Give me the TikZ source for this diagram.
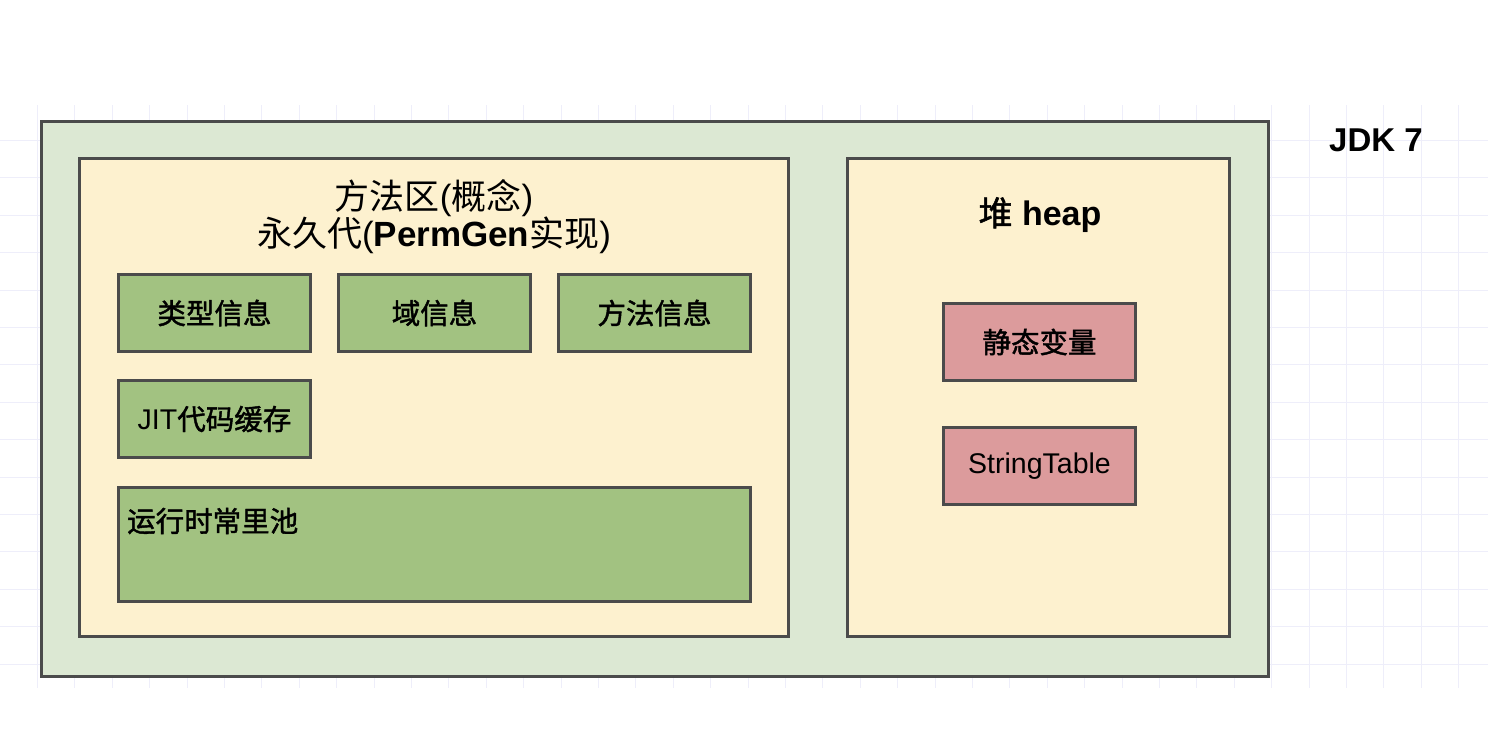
\documentclass[tikz,border=0pt]{standalone}
\usepackage{fontspec}
\setmainfont{Liberation Sans}
\newfontfamily\cjk{Noto Sans CJK SC}[AutoFakeBold=1.5]
\newcommand\cjkb{\cjk\bfseries}
\definecolor{linegray}{HTML}{4B4B4B}
\definecolor{gridlav}{HTML}{EEEEFA}
\definecolor{outergreen}{HTML}{DCE8D3}
\definecolor{areayellow}{HTML}{FDF1CF}
\definecolor{boxgreen}{HTML}{A2C281}
\definecolor{boxpink}{HTML}{DC9B9C}
\tikzset{
  gridline/.style={draw=gridlav, line width=1pt},
  area/.style={draw=linegray, line width=3pt, inner sep=0pt, anchor=north west},
  infobox/.style={draw=linegray, line width=3pt, fill=boxgreen, inner sep=0pt,
    minimum width=192pt, minimum height=77pt, anchor=north west,
    font=\fontsize{28.5}{30}\selectfont},
  heading/.style={font=\fontsize{35}{39}\selectfont, inner sep=0pt},
}
\begin{document}
\begin{tikzpicture}[x=1pt, y=-1pt]
\useasboundingbox (0,0) rectangle (1488,736);
% background grid
\begin{scope}
\clip (0,105) rectangle (1488,688);
\foreach \i in {1,...,39} \draw[gridline] (37.4*\i,105) -- (37.4*\i,688);
\foreach \j in {0,...,15} \draw[gridline] (0,103+37.4*\j) -- (1488,103+37.4*\j);
\end{scope}

\node[area, fill=outergreen, minimum width=1227pt, minimum height=555pt] (jvm) at (40,120) {};
\node[area, fill=areayellow, minimum width=709pt, minimum height=478pt] (methodarea) at (78,157) {};
\node[area, fill=areayellow, minimum width=382pt, minimum height=478pt] (heap) at (846,157) {};

\node[heading] (matitle) at (434,219) {\begin{tabular}{c}{\cjk 方法区}({\cjk 概念})\\[-4pt]{\cjk 永久代}(\textbf{PermGen}{\cjk 实现})\end{tabular}};
\node[heading, font=\fontsize{34}{39}\selectfont] (heaptitle) at (1040,215) {{\cjkb 堆} \textbf{heap}};
\node[heading, font=\fontsize{33}{39}\selectfont] (jdk) at (1376,140) {\textbf{JDK 7}};

% method area content
\node[infobox] (typeinfo) at (117,273) {\cjkb 类型信息};
\node[infobox] (fieldinfo) at (337,273) {\cjkb 域信息};
\node[infobox] (methodinfo) at (557,273) {\cjkb 方法信息};
\node[infobox] (jitcache) at (117,379) {JIT{\cjkb 代码缓存}};
\node[infobox, minimum width=632pt, minimum height=114pt] (constpool) at (117,486) {};
\node[font=\fontsize{28.5}{30}\selectfont, anchor=west, inner sep=0pt] (pooltext) at (127,521) {\cjkb 运行时常里池};

% heap content
\node[infobox, fill=boxpink] (staticvar) at (942,302) {\cjkb 静态变量};
\node[infobox, fill=boxpink] (stringtable) at (942,426) {StringTable};
\end{tikzpicture}
\end{document}
